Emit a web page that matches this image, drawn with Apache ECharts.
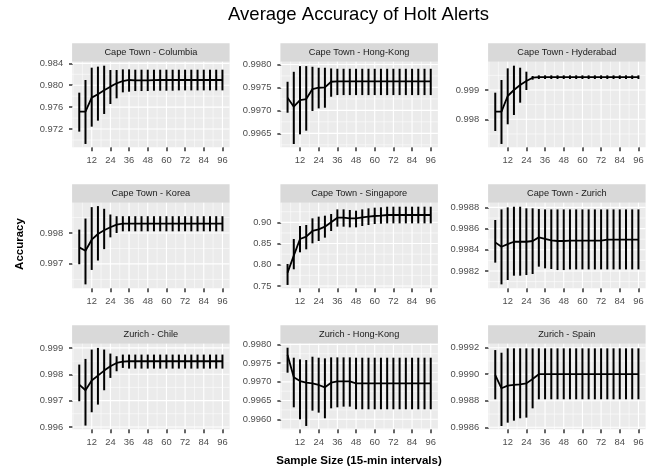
<!DOCTYPE html>
<html><head><meta charset="utf-8">
<script src="https://cdn.jsdelivr.net/npm/echarts@6/dist/echarts.min.js"></script>
<style>html,body{margin:0;padding:0;background:#fff}#c{width:664px;height:472px}</style>
</head><body><div id="c"></div>
<script>
// ---------- data ----------
const sampleSizes = [4,8,12,16,20,24,28,32,36,40,44,48,52,56,60,64,68,72,76,80,84,88,92,96];
const xTicks = [12,24,36,48,60,72,84,96];
const panelTitles = ['Cape Town - Columbia','Cape Town - Hong-Kong','Cape Town - Hyderabad',
  'Cape Town - Korea','Cape Town - Singapore','Cape Town - Zurich',
  'Zurich - Chile','Zurich - Hong-Kong','Zurich - Spain'];

function rep(v, n){ return Array(n).fill(v); }

const meanColumbia = [0.97517,0.97517,0.97773,0.97834,0.97907,0.97974,0.98035,0.98077,0.98096,0.98090,0.98090,0.98090,0.98093,0.98096,0.98096,0.98096,0.98096,0.98096,0.98096,0.98096,0.98096,0.98096,0.98096,0.98096];
const lowColumbia  = [0.97152,0.96927,0.97243,0.97353,0.97475,0.97657,0.97761,0.97870,0.97882,0.97894,0.97894,0.97894,0.97900,0.97900,0.97900,0.97900,0.97906,0.97906,0.97906,0.97906,0.97906,0.97906,0.97906,0.97906];
const highColumbia = [0.97864,0.98096,0.98321,0.98340,0.98357,0.98278,0.98278,0.98290,0.98290,0.98284,0.98284,0.98284,0.98284,0.98284,0.98284,0.98284,0.98284,0.98284,0.98284,0.98284,0.98284,0.98284,0.98284,0.98284];

const meanCTHongKong = [0.997275,0.99708,0.997225,0.997246,0.997464,0.997493,0.9975,0.997623].concat(rep(0.99763,16));
const lowCTHongKong  = [0.996949,0.996268,0.996478,0.996558,0.996986,0.997043,0.997058,0.997297].concat(rep(0.997333,16));
const highCTHongKong = [0.997623,0.99784,0.997964,0.997964,0.99795,0.997928,0.997928,0.997913].concat(rep(0.997906,16));

const meanHyderabad = [0.998261,0.998261,0.998795,0.999,0.99917,0.999307,0.99942].concat(rep(0.999443,17));
const lowHyderabad  = [0.997602,0.997159,0.99783,0.998148,0.998568,0.999,0.999352].concat(rep(0.999375,17));
const highHyderabad = [0.998909,0.999341,0.999739,0.99983,0.999761,0.999625,0.999477].concat(rep(0.9995,17));

const meanKorea = [0.997533,0.997424,0.997783,0.997967,0.998087,0.998185,0.998272].concat(rep(0.998304,17));
const lowKorea  = [0.996989,0.996337,0.996804,0.997109,0.997478,0.997859,0.998].concat(rep(0.998054,17));
const highKorea = [0.998109,0.998467,0.998837,0.99887,0.998783,0.998598,0.998543].concat(rep(0.998543,17));

const meanSingapore = [0.7814,0.8215,0.8607,0.8662,0.8796,0.8835,0.8898,0.9000,0.9110,0.9110,0.9094,0.9094,0.9118,0.9134,0.9149,0.9157].concat(rep(0.9173,8));
const lowSingapore  = [0.7524,0.7893,0.8293,0.8364,0.8505,0.8560,0.8639,0.8796,0.8898,0.8898,0.8882,0.8882,0.8913,0.8937,0.8960,0.8968].concat(rep(0.8976,8));
const highSingapore = [0.8018,0.8607,0.8914,0.8937,0.9094,0.9134,0.9157,0.9196,0.9306,0.9306,0.9291,0.9275,0.9306,0.9330,0.9346,0.9354].concat(rep(0.9369,8));

const meanCTZurich = [0.99847,0.998429,0.998454,0.998476,0.998476,0.998476,0.998483,0.998517,0.998502,0.998489,0.998483,0.998483].concat(rep(0.998486,6), rep(0.998495,6));
const lowCTZurich  = [0.998279,0.998074,0.998115,0.998156,0.998156,0.998162,0.998172,0.998241,0.998225,0.998219,0.998209,0.998209].concat(rep(0.998215,12));
const highCTZurich = [0.998681,0.998781,0.9988,0.998806,0.998806,0.998791,0.998791,0.998784].concat(rep(0.998781,16));

const meanChile = [0.997608,0.997392,0.99776,0.997949,0.998139,0.998304,0.99843,0.998481].concat(rep(0.998494,16));
const lowChile  = [0.996975,0.996051,0.996557,0.996848,0.997392,0.997861,0.998114,0.998241].concat(rep(0.998215,16));
const highChile = [0.998367,0.998582,0.998937,0.999,0.998937,0.998785,0.998684,0.998747].concat(rep(0.998747,16));

const meanZHongKong = [0.997716,0.99712,0.997022,0.996978,0.99696,0.996916,0.996853,0.996978,0.997013,0.997013,0.997013].concat(rep(0.99696,13));
const lowZHongKong  = [0.997244,0.99632,0.996,0.995822,0.996231,0.996178,0.996027,0.996293,0.99632,0.996338,0.996338].concat(rep(0.996267,13));
const highZHongKong = [0.997911,0.997644,0.9976,0.997582,0.997671,0.997644,0.997627,0.997653,0.997653,0.997653,0.997653].concat(rep(0.997644,13));

const meanSpain = [0.998994,0.998894,0.998914,0.998919,0.998924,0.998931,0.998964].concat(rep(0.9990,17));
const lowSpain  = [0.998811,0.99861,0.998635,0.99865,0.998668,0.998673,0.998743].concat(rep(0.998811,17));
const highSpain = [0.999182,0.999162].concat(rep(0.999195,22));

// y tick labels (major breaks) per panel
const yBreaks = [
  [0.972,0.976,0.980,0.984],
  [0.9965,0.9970,0.9975,0.9980],
  [0.998,0.999],
  [0.997,0.998],
  [0.75,0.80,0.85,0.90],
  [0.9982,0.9984,0.9986,0.9988],
  [0.996,0.997,0.998,0.999],
  [0.9960,0.9965,0.9970,0.9975,0.9980],
  [0.9986,0.9988,0.9990,0.9992]
];
const yMinorBreaks = [
  [0.970,0.974,0.978,0.982],
  [0.99625,0.99675,0.99725,0.99775],
  [0.9975,0.9985,0.9995],
  [0.9965,0.9975,0.9985],
  [0.775,0.825,0.875,0.925],
  [0.9981,0.9983,0.9985,0.9987],
  [0.9965,0.9975,0.9985],
  [0.99575,0.99625,0.99675,0.99725,0.99775],
  [0.9987,0.9989,0.9991]
];
const yDecimals = [3,4,3,3,2,4,3,4,4];
const yLimits = [
  [0.96866,0.98430],[0.996196,0.99806],[0.997045,0.999966],
  [0.99621,0.99898],[0.7445,0.9463],[0.998037,0.998844],
  [0.99591,0.99916],[0.995733,0.998018],[0.998585,0.99923]
];
const xMinorBreaks = [0,6,18,30,42,54,66,78,90];
const xLimits = [-0.6,100.6];

const means = [meanColumbia,meanCTHongKong,meanHyderabad,meanKorea,meanSingapore,meanCTZurich,meanChile,meanZHongKong,meanSpain];
const lows  = [lowColumbia,lowCTHongKong,lowHyderabad,lowKorea,lowSingapore,lowCTZurich,lowChile,lowZHongKong,lowSpain];
const highs = [highColumbia,highCTHongKong,highHyderabad,highKorea,highSingapore,highCTZurich,highChile,highZHongKong,highSpain];

// ---------- layout ----------
const FONT = 'Liberation Sans, Arial, Helvetica, sans-serif';
const colLeft = [72.1, 280.4, 488.1];
const rowTop = [61.7, 202.7, 343.7];
const panelW = 157.5, panelH = 85.6, stripH = 18.4;

const grids = [], xAxes = [], yAxes = [], series = [], graphics = [];

for (let i = 0; i < 9; i++) {
  const r = Math.floor(i / 3), c = i % 3;
  grids.push({left: colLeft[c], top: rowTop[r], width: panelW, height: panelH,
    show: true, backgroundColor: '#EBEBEB', borderWidth: 0, containLabel: false});
  xAxes.push({type: 'value', gridIndex: i, min: xLimits[0], max: xLimits[1],
    axisLine: {show: false}, splitLine: {show: false},
    axisTick: {show: true, length: 4, lineStyle: {color: '#333333', width: 1.5}, customValues: xTicks},
    axisLabel: {show: true, margin: 8.6, color: '#4D4D4D', fontSize: 9.4, fontFamily: FONT, customValues: xTicks,
      formatter: v => String(Math.round(v))}
  });
  const dec = yDecimals[i];
  yAxes.push({type: 'value', gridIndex: i, min: yLimits[i][0], max: yLimits[i][1], scale: true,
    axisLine: {show: false}, splitLine: {show: false},
    axisTick: {show: true, length: 4, lineStyle: {color: '#333333', width: 1.5}, customValues: yBreaks[i]},
    axisLabel: {show: true, margin: 9, color: '#4D4D4D', fontSize: 9.4, fontFamily: FONT, customValues: yBreaks[i],
      formatter: v => v.toFixed(dec)}
  });

  // grid lines: [value, orientation (0 = horizontal, 1 = vertical), major flag]
  const gl = [];
  yMinorBreaks[i].forEach(v => gl.push([v, 0, 0]));
  xMinorBreaks.forEach(v => gl.push([v, 1, 0]));
  yBreaks[i].forEach(v => gl.push([v, 0, 1]));
  xTicks.forEach(v => gl.push([v, 1, 1]));
  const yLo = yLimits[i][0];
  series.push({type: 'custom', xAxisIndex: i, yAxisIndex: i, silent: true, z: 1,
    data: gl, encode: {x: 0, y: 1},
    renderItem: function (params, api) {
      const cs = params.coordSys;
      const v = api.value(0), o = api.value(1), maj = api.value(2);
      const w = maj ? 1.1 : 0.55;
      if (o === 0) {
        const y = api.coord([50, v])[1];
        return {type: 'line', shape: {x1: cs.x, y1: y, x2: cs.x + cs.width, y2: y}, style: {stroke: '#FFFFFF', lineWidth: w}};
      } else {
        const x = api.coord([v, yLo])[0];
        return {type: 'line', shape: {x1: x, y1: cs.y, x2: x, y2: cs.y + cs.height}, style: {stroke: '#FFFFFF', lineWidth: w}};
      }
    }
  });

  // error bars
  series.push({type: 'custom', xAxisIndex: i, yAxisIndex: i, silent: true, z: 3,
    data: sampleSizes.map((x, k) => [x, lows[i][k], highs[i][k]]),
    encode: {x: 0, y: [1, 2]},
    renderItem: function (params, api) {
      const p1 = api.coord([api.value(0), api.value(1)]);
      const p2 = api.coord([api.value(0), api.value(2)]);
      return {type: 'line', shape: {x1: p1[0], y1: p1[1], x2: p2[0], y2: p2[1]}, style: {stroke: '#000000', lineWidth: 2}};
    }
  });

  // mean line
  series.push({type: 'line', xAxisIndex: i, yAxisIndex: i, silent: true, z: 4,
    data: sampleSizes.map((x, k) => [x, means[i][k]]),
    showSymbol: false, symbol: 'none', lineStyle: {color: '#000000', width: 1.8}, animation: false});

  // strip
  graphics.push({type: 'rect', shape: {x: colLeft[c], y: rowTop[r] - stripH, width: panelW, height: stripH},
    style: {fill: '#D9D9D9'}, silent: true});
  graphics.push({type: 'text', x: colLeft[c] + panelW / 2, y: rowTop[r] - stripH / 2,
    style: {text: panelTitles[i], fill: '#1A1A1A', fontSize: 9.2, fontFamily: FONT, align: 'center', verticalAlign: 'middle'}, silent: true});
}

graphics.push({type: 'text', x: 358.5, y: 14.5,
  style: {text: 'Average Accuracy of Holt Alerts', fill: '#000000', fontSize: 18.5, fontFamily: FONT, align: 'center', verticalAlign: 'middle'}});
graphics.push({type: 'text', x: 359, y: 461,
  style: {text: 'Sample Size (15-min intervals)', fill: '#000000', fontSize: 11.5, fontWeight: 'bold', fontFamily: FONT, align: 'center', verticalAlign: 'middle'}});
graphics.push({type: 'text', x: 20, y: 244, rotation: Math.PI / 2,
  style: {text: 'Accuracy', fill: '#000000', fontSize: 11.5, fontWeight: 'bold', fontFamily: FONT, align: 'center', verticalAlign: 'middle'}});

const chart = echarts.init(document.getElementById('c'), null, {renderer: 'canvas'});
chart.setOption({
  animation: false,
  backgroundColor: '#FFFFFF',
  grid: grids, xAxis: xAxes, yAxis: yAxes, series: series, graphic: graphics
});
</script></body></html>
